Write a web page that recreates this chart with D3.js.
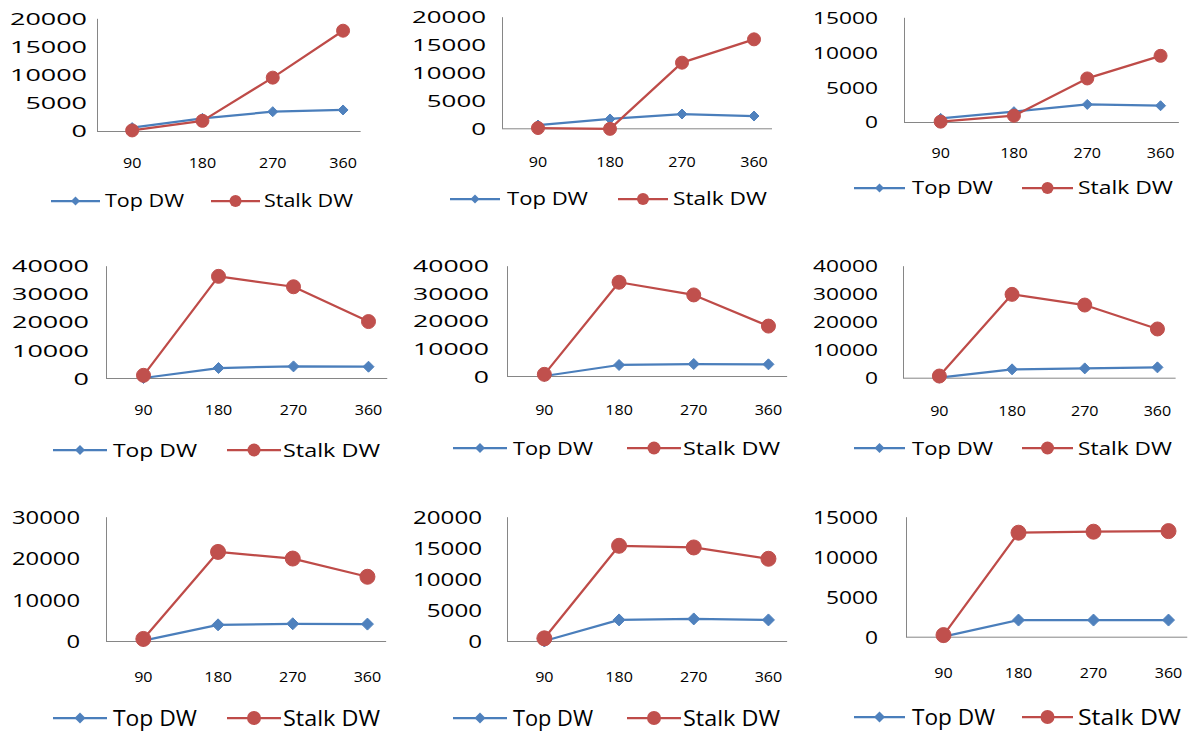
<!DOCTYPE html>
<html>
<head>
<meta charset="utf-8">
<script src="https://cdn.jsdelivr.net/npm/d3@7"></script>
<style>
  html, body { margin: 0; padding: 0; background: #ffffff; }
  svg { display: block; }
  text { font-family: "Open Sans", "Liberation Sans", Arial, sans-serif; fill: #000; }
</style>
</head>
<body>
<svg id="chart" width="1194" height="731"></svg>
<script>
// ---------------- DATA ----------------
const categories = ["90", "180", "270", "360"];
const seriesNames = ["Top DW", "Stalk DW"];

// one row per panel (reading order: left-to-right, top-to-bottom)
const topDW = [
  [600, 2250, 3430, 3730],
  [590, 1670, 2560, 2200],
  [520, 1480, 2520, 2330],
  [0, 3550, 4140, 4020],
  [0, 3990, 4350, 4230],
  [0, 2980, 3330, 3690],
  [100, 3900, 4160, 4080],
  [0, 3390, 3550, 3390],
  [0, 2080, 2080, 2080]
];
const stalkDW = [
  [100, 1800, 9470, 17800],
  [50, -100, 11760, 15940],
  [50, 900, 6240, 9480],
  [950, 36200, 32500, 20100],
  [600, 34000, 29400, 18100],
  [600, 29760, 25950, 17400],
  [500, 21500, 19900, 15500],
  [430, 15320, 15050, 13230],
  [200, 13000, 13125, 13200]
];
const yTicks = [
  [0, 5000, 10000, 15000, 20000],
  [0, 5000, 10000, 15000, 20000],
  [0, 5000, 10000, 15000],
  [0, 10000, 20000, 30000, 40000],
  [0, 10000, 20000, 30000, 40000],
  [0, 10000, 20000, 30000, 40000],
  [0, 10000, 20000, 30000],
  [0, 5000, 10000, 15000, 20000],
  [0, 5000, 10000, 15000]
];

// ---------------- LAYOUT (pixels) ----------------
// ax: y-axis x, zy: zero line y, ty: top tick y, step: category step,
// yr: right edge of y labels, yw: y label width per char, yf: y label font size,
// xy: x label centre y, ly: legend centre y, lx: legend start x, ll: legend line length,
// t1: first legend text x, w1: its width, rx: red legend line x, t2: second text x, w2: its width,
// lf: legend font, mr: marker radius
const layout = [
  {ax: 97,  zy: 131,   ty: 18.3,  step: 70.3, yr: 87,  yw: 15.4, yf: 16.5, xy: 163, ly: 201, lx: 51,  ll: 49, t1: 105, w1: 79, rx: 211,  t2: 264,  w2: 89,  lf: 18,   mr: 6.5},
  {ax: 502, zy: 128.3, ty: 16.7,  step: 72,   yr: 486, yw: 14.8, yf: 16.5, xy: 162, ly: 199, lx: 450, ll: 50, t1: 507, w1: 81, rx: 618,  t2: 673,  w2: 94,  lf: 18,   mr: 6.5},
  {ax: 904, zy: 122,   ty: 17.3,  step: 73.3, yr: 878, yw: 13,   yf: 16.5, xy: 153, ly: 188, lx: 854, ll: 51, t1: 912, w1: 81, rx: 1022, t2: 1078, w2: 95,  lf: 18,   mr: 6.5},
  {ax: 106, zy: 378,   ty: 265.7, step: 75,   yr: 89,  yw: 15.4, yf: 17,   xy: 410, ly: 450, lx: 53,  ll: 54, t1: 113, w1: 84, rx: 227,  t2: 283,  w2: 97,  lf: 18.5, mr: 7},
  {ax: 507, zy: 376,   ty: 265.7, step: 74.7, yr: 489, yw: 15.2, yf: 17,   xy: 410, ly: 448, lx: 453, ll: 54, t1: 513, w1: 80, rx: 627,  t2: 683,  w2: 97,  lf: 18.5, mr: 7},
  {ax: 903, zy: 377.7, ty: 265.7, step: 72.7, yr: 878, yw: 13,   yf: 17,   xy: 411, ly: 448, lx: 854, ll: 51, t1: 912, w1: 81, rx: 1022, t2: 1078, w2: 94,  lf: 18.5, mr: 7},
  {ax: 106, zy: 641,   ty: 516.7, step: 74.7, yr: 80,  yw: 13.6, yf: 18.5, xy: 677, ly: 718, lx: 53,  ll: 54, t1: 113, w1: 84, rx: 227,  t2: 283,  w2: 97,  lf: 21,   mr: 7.5},
  {ax: 507, zy: 641,   ty: 516.7, step: 74.7, yr: 482, yw: 13.8, yf: 18.5, xy: 677, ly: 718, lx: 453, ll: 54, t1: 513, w1: 80, rx: 627,  t2: 683,  w2: 97,  lf: 21,   mr: 7.5},
  {ax: 906, zy: 636.7, ty: 516.7, step: 75,   yr: 878, yw: 13,   yf: 18.5, xy: 673, ly: 717, lx: 854, ll: 51, t1: 912, w1: 83, rx: 1022, t2: 1078, w2: 103, lf: 21,   mr: 7.5}
];

const BLUE_LINE = "#4A7EBB", BLUE = "#4F81BD";
const RED_LINE = "#BE4B48", RED = "#C0504D";
const AXIS = "#868686";

const svg = d3.select("#chart");
svg.append("rect").attr("width", 1194).attr("height", 731).attr("fill", "#fff");

const diamond = (cx, cy, h) => `M${cx},${cy - h}L${cx + h},${cy}L${cx},${cy + h}L${cx - h},${cy}Z`;

layout.forEach((L, i) => {
  const g = svg.append("g");
  const ticks = yTicks[i];
  const x = d3.scaleBand().domain(categories).range([L.ax, L.ax + 4 * L.step]).padding(0);
  const y = d3.scaleLinear().domain([0, d3.max(ticks)]).range([L.zy, L.ty]);
  const cx = c => x(c) + x.bandwidth() / 2;

  // y axis
  const yAxis = d3.axisLeft(y).tickValues(ticks).tickSize(0).tickSizeOuter(0)
    .tickPadding(L.ax - L.yr).tickFormat(d3.format("d"));
  const yg = g.append("g").attr("transform", `translate(${L.ax},0)`).call(yAxis);
  yg.select(".domain").attr("stroke", AXIS).attr("stroke-width", 1);
  yg.selectAll("text")
    .attr("font-size", L.yf)
    .attr("font-family", null)
    .attr("dy", "0.36em")
    .attr("fill", "#000")
    .attr("textLength", d => String(d).length * L.yw)
    .attr("lengthAdjust", "spacingAndGlyphs");

  // x axis line (ends a quarter-step past last category)
  g.append("line")
    .attr("x1", L.ax).attr("x2", cx(categories[categories.length - 1]) + L.step * 0.25)
    .attr("y1", y(0) + 0.5).attr("y2", y(0) + 0.5)
    .attr("stroke", AXIS).attr("stroke-width", 1);

  // x labels
  const xAxis = d3.axisBottom(x).tickSize(0).tickSizeOuter(0).tickPadding(0);
  const xg = g.append("g").attr("transform", `translate(0,${L.xy})`).call(xAxis);
  xg.select(".domain").remove();
  xg.selectAll("text")
    .attr("font-size", 14)
    .attr("font-family", null)
    .attr("y", 0).attr("dy", "0.36em")
    .attr("fill", "#000")
    .attr("textLength", d => d.length * 9.2)
    .attr("lengthAdjust", "spacingAndGlyphs");

  const line = d3.line().x((d, k) => cx(categories[k])).y(d => y(d));

  // Top DW
  g.append("path").datum(topDW[i]).attr("d", line)
    .attr("fill", "none").attr("stroke", BLUE_LINE).attr("stroke-width", 2.25).attr("stroke-linejoin", "round");
  g.selectAll(".dia").data(topDW[i]).join("path")
    .attr("d", (d, k) => diamond(cx(categories[k]), y(d), L.mr - 1.5))
    .attr("fill", BLUE).attr("stroke", BLUE).attr("stroke-width", 1);

  // Stalk DW
  g.append("path").datum(stalkDW[i]).attr("d", line)
    .attr("fill", "none").attr("stroke", RED_LINE).attr("stroke-width", 2.25).attr("stroke-linejoin", "round");
  g.selectAll(".dot").data(stalkDW[i]).join("circle")
    .attr("cx", (d, k) => cx(categories[k])).attr("cy", d => y(d)).attr("r", L.mr)
    .attr("fill", RED).attr("stroke", RED).attr("stroke-width", 1);

  // Legend
  const lg = g.append("g");
  lg.append("line").attr("x1", L.lx).attr("x2", L.lx + L.ll).attr("y1", L.ly).attr("y2", L.ly)
    .attr("stroke", BLUE_LINE).attr("stroke-width", 2.25);
  lg.append("path").attr("d", diamond(L.lx + L.ll / 2, L.ly, L.mr - 2)).attr("fill", BLUE);
  lg.append("text").attr("x", L.t1).attr("y", L.ly).attr("dy", "0.36em")
    .attr("font-size", L.lf).text(seriesNames[0])
    .attr("textLength", L.w1).attr("lengthAdjust", "spacingAndGlyphs");
  lg.append("line").attr("x1", L.rx).attr("x2", L.rx + L.ll).attr("y1", L.ly).attr("y2", L.ly)
    .attr("stroke", RED_LINE).attr("stroke-width", 2.25);
  lg.append("circle").attr("cx", L.rx + L.ll / 2).attr("cy", L.ly).attr("r", L.mr - 0.5).attr("fill", RED);
  lg.append("text").attr("x", L.t2).attr("y", L.ly).attr("dy", "0.36em")
    .attr("font-size", L.lf).text(seriesNames[1])
    .attr("textLength", L.w2).attr("lengthAdjust", "spacingAndGlyphs");
});
</script>
</body>
</html>
